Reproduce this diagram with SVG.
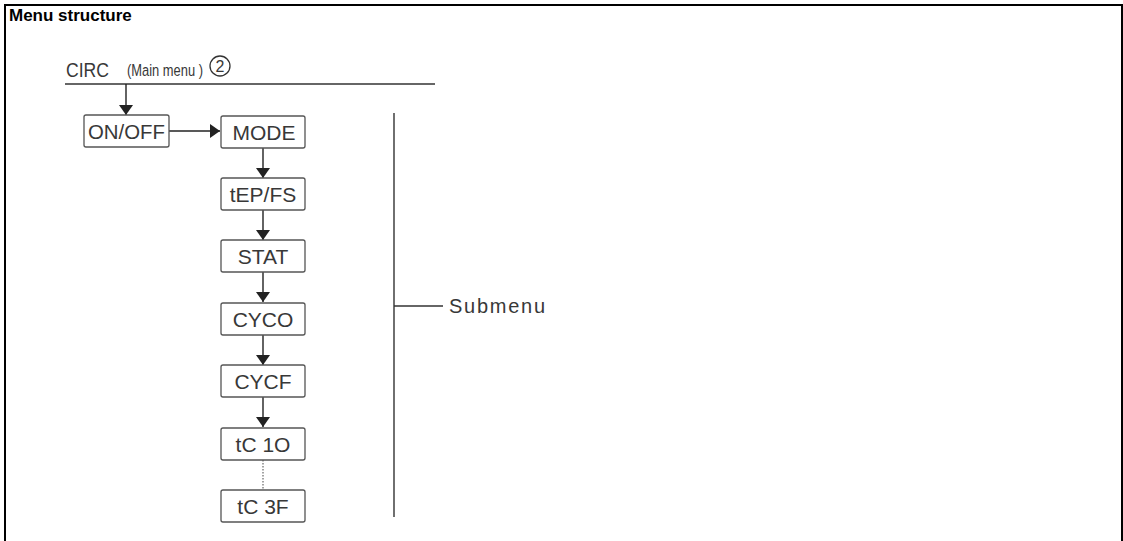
<svg xmlns="http://www.w3.org/2000/svg" width="1123" height="541" viewBox="0 0 1123 541">
<defs>
<marker id="ah" viewBox="0 0 10 14" refX="10" refY="7" markerWidth="10" markerHeight="14" markerUnits="userSpaceOnUse" orient="auto">
<path d="M0,0 L10,7 L0,14 z" fill="#222"/>
</marker>
<style>
.box{fill:#fff;stroke:#555;stroke-width:1.3}
.lbl{font-family:"Liberation Sans",Arial,sans-serif;font-size:21px;fill:#383838;text-anchor:middle}
.ln{stroke:#333;stroke-width:1.4;fill:none}
.arr{stroke:#222;stroke-width:1.4;fill:none;marker-end:url(#ah)}
</style>
</defs>
<rect width="1123" height="541" fill="#fff"/>
<path d="M5,545 V5 H1122 V545" fill="none" stroke="#000" stroke-width="2"/>
<text x="9" y="21" font-family="Liberation Sans,Arial,sans-serif" font-weight="bold" font-size="17" fill="#000">Menu structure</text>
<g id="mainmenu">
<text x="66" y="77" font-family="Liberation Sans,Arial,sans-serif" font-size="20" fill="#383838" textLength="43" lengthAdjust="spacingAndGlyphs">CIRC</text>
<text transform="translate(127,76) scale(0.76,1)" x="0" y="0" font-family="Liberation Sans,Arial,sans-serif" font-size="17" fill="#383838">(Main menu )</text>
<circle cx="220" cy="66" r="10" fill="none" stroke="#333" stroke-width="1.3"/>
<text x="220" y="72" font-family="Liberation Sans,Arial,sans-serif" font-size="16" fill="#383838" text-anchor="middle">2</text>
<line x1="65" y1="84" x2="435" y2="84" class="ln"/>
</g>
<g id="connectors">
<line x1="126" y1="84" x2="126" y2="115" class="arr"/>
<line x1="169" y1="131" x2="220" y2="131" class="arr"/>
<line x1="263" y1="148" x2="263" y2="178" class="arr"/>
<line x1="263" y1="210" x2="263" y2="240" class="arr"/>
<line x1="263" y1="272" x2="263" y2="302" class="arr"/>
<line x1="263" y1="335" x2="263" y2="365" class="arr"/>
<line x1="263" y1="397" x2="263" y2="427" class="arr"/>
<line x1="263" y1="460" x2="263" y2="490" stroke="#666" stroke-width="1.2" stroke-dasharray="1.5,1.5"/>
</g>
<g id="onoff"><rect x="84" y="115" width="85" height="32" rx="2" class="box"/><text x="126.5" y="139" class="lbl" textLength="77" lengthAdjust="spacingAndGlyphs">ON/OFF</text></g>
<g id="mode"><rect x="221" y="116" width="84" height="32" rx="2" class="box"/><text x="264" y="140" class="lbl">MODE</text></g>
<g id="tepfs"><rect x="221" y="178" width="84" height="32" rx="2" class="box"/><text x="263" y="202" class="lbl">tEP/FS</text></g>
<g id="stat"><rect x="221" y="240" width="84" height="32" rx="2" class="box"/><text x="263" y="264" class="lbl">STAT</text></g>
<g id="cyco"><rect x="221" y="303" width="84" height="32" rx="2" class="box"/><text x="263" y="327" class="lbl">CYCO</text></g>
<g id="cycf"><rect x="221" y="365" width="84" height="32" rx="2" class="box"/><text x="263" y="389" class="lbl">CYCF</text></g>
<g id="tc1o"><rect x="221" y="428" width="84" height="32" rx="2" class="box"/><text x="263" y="452" class="lbl">tC 1O</text></g>
<g id="tc3f"><rect x="221" y="490" width="84" height="32" rx="2" class="box"/><text x="263" y="514" class="lbl">tC 3F</text></g>
<g id="submenu">
<line x1="394" y1="113" x2="394" y2="517" class="ln"/>
<line x1="394" y1="306" x2="443" y2="306" class="ln"/>
<text x="449" y="313" font-family="Liberation Sans,Arial,sans-serif" font-size="20" fill="#383838" textLength="96" lengthAdjust="spacing">Submenu</text>
</g>
</svg>
